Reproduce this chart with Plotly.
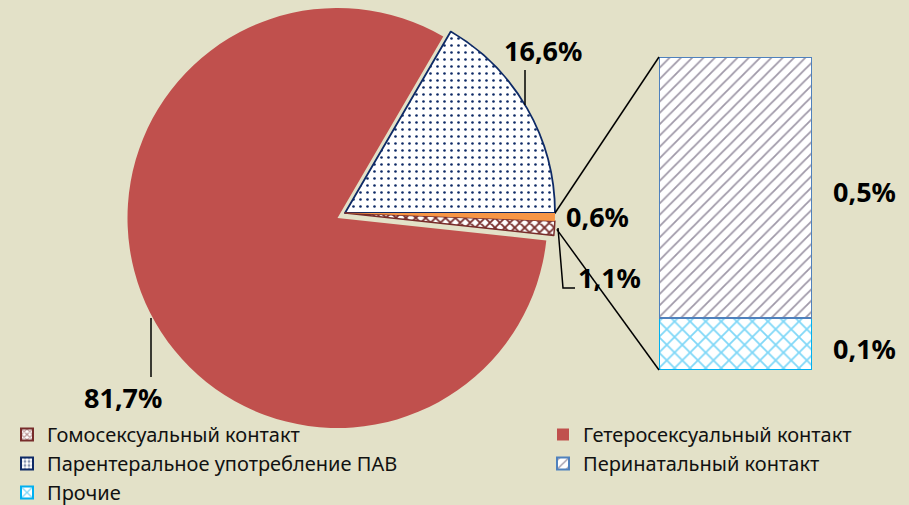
import math
import plotly.graph_objects as go

# ---------------- data ----------------
pie_labels = ["Парентеральное употребление ПАВ", "Гетеросексуальный контакт",
              "Гомосексуальный контакт", "Перинатальный контакт и прочие"]
pie_values = [16.6, 81.7, 1.1, 0.6]
pie_text = ["16,6%", "81,7%", "1,1%", "0,6%"]

bar_labels = ["Прочие", "Перинатальный контакт"]
bar_values = [0.1, 0.5]
bar_text = ["0,1%", "0,5%"]

legend_labels = ["Гомосексуальный контакт", "Гетеросексуальный контакт",
                 "Парентеральное употребление ПАВ", "Перинатальный контакт", "Прочие"]

# ---------------- style ----------------
W, H = 909, 505
BG = "#E3E1C8"
RED = "#C0504D"
NAVY = "#0E2A66"
BROWN = "#772C2A"
ORANGE = "#F79646"
PURPLE = "#3F3151"
BLUE = "#4F81BD"
CYAN = "#00B0F0"
LBL_FONT = dict(family="Noto Sans", size=27, color="#000000")
LEG_FONT = dict(family="Noto Sans", size=20, color="#111111")


def px(x):
    return x / W


def py(y):
    return 1 - y / H


R = 210
C_MAIN = (345, 213)     # centre of the non-exploded slices
C_RED = (337.5, 218)    # centre of the exploded slice


def dom(c):
    return dict(x=[px(c[0] - R), px(c[0] + R)], y=[py(c[1] + R), py(c[1] - R)])


TR = "rgba(0,0,0,0)"
# first slice (parenteral) lies counterclockwise of the 3 o'clock line
ROT = 90 - 360 * pie_values[0] / sum(pie_values)
fig = go.Figure()

# non-exploded slices
fig.add_trace(go.Pie(
    labels=pie_labels, values=pie_values, sort=False, direction="counterclockwise",
    rotation=ROT, domain=dom(C_MAIN), textinfo="none", hoverinfo="label+value",
    showlegend=False,
    marker=dict(
        colors=["white", TR, "white", ORANGE],
        line=dict(color=[NAVY, TR, BROWN, ORANGE], width=[1.8, 0, 1.5, 0]),
        pattern=dict(shape=[".", "", "x", ""], fgcolor=[NAVY, TR, BROWN, ORANGE],
                     bgcolor=["white", TR, "white", ORANGE], size=[7, 6, 7, 6],
                     solidity=[0.11, 0.3, 0.45, 0.3], fillmode="replace"),
    ),
))
# exploded slice
fig.add_trace(go.Pie(
    labels=pie_labels, values=pie_values, sort=False, direction="counterclockwise",
    rotation=ROT, domain=dom(C_RED), textinfo="none", hoverinfo="label+value",
    showlegend=False,
    marker=dict(colors=[TR, RED, TR, TR], line=dict(width=0)),
))

# bar of pie
bar_styles = [
    dict(color="white", line=dict(color=CYAN, width=2.5),
         pattern=dict(shape="x", fgcolor=CYAN, bgcolor="white", size=11, solidity=0.3)),
    dict(color="white", line=dict(color=BLUE, width=2.5),
         pattern=dict(shape="/", fgcolor=PURPLE, bgcolor="white", size=8, solidity=0.22)),
]
bar_legend = ["legend", "legend2"]
bar_ranks = [3, 2]
bar_names = [legend_labels[4], legend_labels[3]]
for lab, val, st, lg, rk, nm in zip(bar_labels, bar_values, bar_styles, bar_legend, bar_ranks, bar_names):
    fig.add_trace(go.Bar(x=[0], y=[val], width=1, name=nm,
                         marker=st, legend=lg, legendrank=rk, legendgroup=lab,
                         xaxis="x", yaxis="y", hoverinfo="name+y"))

# legend-only entries for pie slices
leg_styles = [
    dict(color="white", line=dict(color=BROWN, width=1.8),
         pattern=dict(shape="x", fgcolor=BROWN, bgcolor="white", size=5, solidity=0.5)),
    dict(color=RED, line=dict(color=RED, width=0)),
    dict(color="white", line=dict(color=NAVY, width=2),
         pattern=dict(shape=".", fgcolor=NAVY, bgcolor="white", size=5, solidity=0.4)),
]
leg_which = ["legend", "legend2", "legend"]
leg_ranks = [1, 1, 2]
for i, st in enumerate(leg_styles):
    fig.add_trace(go.Bar(x=[None], y=[None], name=legend_labels[i], marker=st,
                         legend=leg_which[i], legendrank=leg_ranks[i], legendgroup=legend_labels[i],
                         xaxis="x", yaxis="y"))

# bar axis geometry
BX0, BX1, BY0, BY1 = 659, 812, 370, 57
total_bar = sum(bar_values)

# connector lines computed from slice angles
frac_small = (pie_values[2] + pie_values[3]) / sum(pie_values)
a_top = 0.0
a_bot = -2 * math.pi * frac_small
p_top = (C_MAIN[0] + R * math.cos(a_top), C_MAIN[1] - R * math.sin(a_top))
p_bot = (C_MAIN[0] + R * math.cos(a_bot), C_MAIN[1] - R * math.sin(a_bot))
LINE = dict(color="black", width=1.5)
shapes = [
    dict(type="line", xref="paper", yref="paper", x0=px(p_top[0]), y0=py(p_top[1]),
         x1=px(BX0), y1=py(BY1), line=LINE),
    dict(type="line", xref="paper", yref="paper", x0=px(p_bot[0] + 3), y0=py(p_bot[1] - 6),
         x1=px(BX0), y1=py(BY0), line=LINE),
    # leader lines
    dict(type="line", xref="paper", yref="paper", x0=px(151), y0=py(318), x1=px(151), y1=py(377),
         line=LINE),
    dict(type="line", xref="paper", yref="paper", x0=px(525), y0=py(70), x1=px(525), y1=py(105),
         line=LINE),
    dict(type="path", xref="paper", yref="paper",
         path=f"M{px(558)},{py(228)} L{px(563)},{py(288)} L{px(575)},{py(288)}",
         line=LINE),
]

annos = []
lbl_pos = {"81,7%": (123, 397), "16,6%": (543, 51), "0,6%": (597, 217), "1,1%": (609, 277)}
for t in pie_text:
    x, y = lbl_pos[t]
    annos.append(dict(text=f"<b>{t}</b>", x=px(x), y=py(y), xref="paper", yref="paper",
                      showarrow=False, font=LBL_FONT, xanchor="center", yanchor="middle"))
bar_lbl_pos = {"0,1%": (864, 348), "0,5%": (864, 191)}
for t in bar_text:
    x, y = bar_lbl_pos[t]
    annos.append(dict(text=f"<b>{t}</b>", x=px(x), y=py(y), xref="paper", yref="paper",
                      showarrow=False, font=LBL_FONT, xanchor="center", yanchor="middle"))

LEG = dict(orientation="v", xanchor="left", yanchor="top", bgcolor="rgba(0,0,0,0)",
           font=LEG_FONT, itemsizing="constant", tracegroupgap=0, traceorder="normal")

fig.update_layout(
    width=W, height=H, margin=dict(l=0, r=0, t=0, b=0, autoexpand=False),
    paper_bgcolor=BG, plot_bgcolor=BG, barmode="stack",
    xaxis=dict(domain=[px(BX0), px(BX1)], range=[-0.5, 0.5], visible=False, fixedrange=True),
    yaxis=dict(domain=[py(BY0), py(BY1)], range=[0, total_bar], visible=False, fixedrange=True),
    shapes=shapes, annotations=annos,
    legend=dict(x=px(7), y=py(415), **LEG),
    legend2=dict(x=px(543), y=py(415), **LEG),
    showlegend=True,
)

fig.write_html("out.html", config={"displayModeBar": False},
               post_script="document.body.style.margin='0';")
